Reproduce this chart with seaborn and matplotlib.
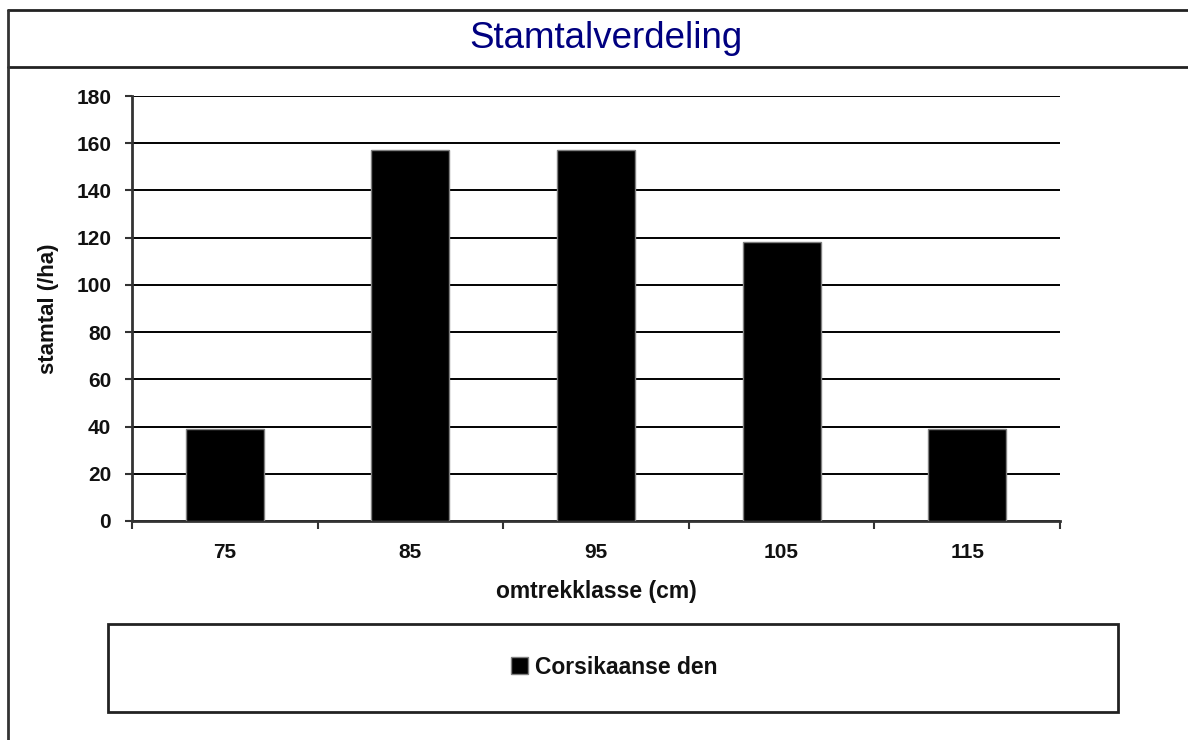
import numpy as np
import matplotlib
matplotlib.use('Agg')
import matplotlib.pyplot as plt
from matplotlib.patches import Rectangle
from matplotlib.lines import Line2D
import seaborn as sns

categories = ['75', '85', '95', '105', '115']
stamtal = [39, 157, 157, 118, 39]
series_name = 'Corsikaanse den'
yticks = [0, 20, 40, 60, 80, 100, 120, 140, 160, 180]

sns.set_style('white')
plt.rcParams['font.family'] = ['Liberation Sans', 'DejaVu Sans']

fig = plt.figure(figsize=(11.88, 7.4), dpi=100)
ax = fig.add_axes([132 / 1188, 1 - 521 / 740, (1060 - 132) / 1188, (521 - 96) / 740])

sns.barplot(x=categories, y=stamtal, color='black', width=0.42, ax=ax,
            edgecolor='#808080', linewidth=1, saturation=1, label=series_name, zorder=3)
if ax.get_legend() is not None:
    ax.get_legend().remove()

ax.set_ylim(0, 180)
ax.set_xlim(-0.5, len(categories) - 0.5)
ax.set_yticks(yticks)
ax.yaxis.grid(True, color='black', linewidth=1.4, zorder=0)
ax.set_axisbelow(True)

for s in ['top', 'right']:
    ax.spines[s].set_visible(False)
for s in ['left', 'bottom']:
    ax.spines[s].set_color('#333333')
    ax.spines[s].set_linewidth(2)

ax.tick_params(axis='y', left=True, direction='out', length=5, width=1.5, color='#333333',
               pad=10, labelsize=15)
ax.tick_params(axis='x', which='major', bottom=True, length=0, pad=16, labelsize=15)
ax.set_xticks(np.arange(-0.5, len(categories), 1), minor=True)
ax.tick_params(axis='x', which='minor', bottom=True, direction='out', length=6, width=1.5,
               color='#333333')
for lab in ax.get_xticklabels() + ax.get_yticklabels():
    lab.set_fontweight('bold')
    lab.set_color('#111111')

ax.set_xlabel('omtrekklasse (cm)', fontsize=16.5, fontweight='bold', color='#111111', labelpad=13)
ax.set_ylabel('stamtal (/ha)', fontsize=16, fontweight='bold', color='#111111', labelpad=12)

# title box
fig.add_artist(Line2D([8 / 1188, 1], [1 - 10 / 740] * 2, color='#222222', lw=2, transform=fig.transFigure))
fig.add_artist(Line2D([8 / 1188, 1], [1 - 67 / 740] * 2, color='#222222', lw=2, transform=fig.transFigure))
fig.add_artist(Line2D([8 / 1188] * 2, [0, 1 - 10 / 740], color='#333333', lw=2, transform=fig.transFigure))
fig.text(606 / 1188, 1 - 38 / 740, 'Stamtalverdeling', ha='center', va='center',
         fontsize=26.5, color='#000080')

# legend box
fig.add_artist(Rectangle((108 / 1188, 1 - 712 / 740), (1118 - 108) / 1188, (712 - 624) / 740,
                         transform=fig.transFigure, fill=False, edgecolor='#222222', lw=2))
handles, labels = ax.get_legend_handles_labels()
leg = fig.legend(handles[:1], labels[:1], loc='center', bbox_to_anchor=(614 / 1188, 1 - 667 / 740),
                 frameon=False, handlelength=0.75, handleheight=0.75, handletextpad=0.3,
                 prop={'size': 16.5, 'weight': 'bold'})
for t in leg.get_texts():
    t.set_color('#111111')

fig.savefig('out.png', dpi=100)
